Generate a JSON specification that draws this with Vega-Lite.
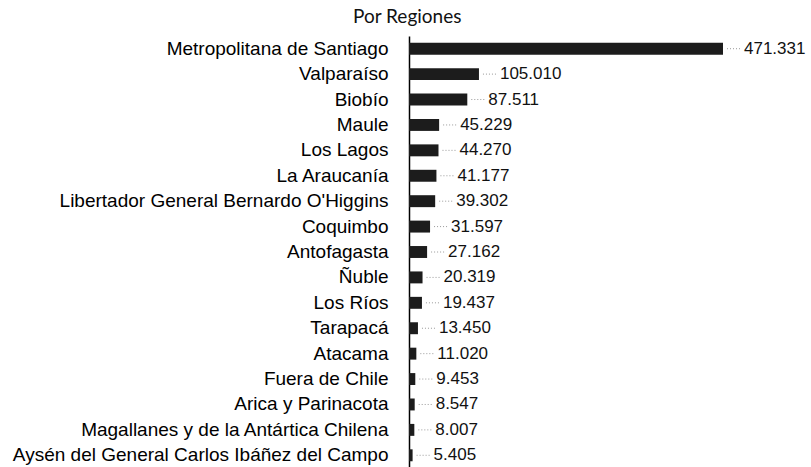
{
  "$schema": "https://vega.github.io/schema/vega-lite/v6.json",
  "autosize": "none",
  "width": 314,
  "height": 432,
  "padding": {"left": 409, "top": 36, "right": 88, "bottom": -1},
  "background": "white",
  "config": {
    "view": {"stroke": null},
    "locale": {"number": {"decimal": ",", "thousands": ".", "grouping": [3], "currency": ["$", ""]}}
  },
  "title": {
    "text": "Por Regiones",
    "anchor": "start",
    "frame": "group",
    "dx": -56,
    "offset": 9,
    "font": "Lato",
    "fontSize": 19,
    "fontWeight": "normal",
    "color": "#111"
  },
  "data": {
    "values": [
      {"region": "Metropolitana de Santiago", "valor": 471331},
      {"region": "Valparaíso", "valor": 105010},
      {"region": "Biobío", "valor": 87511},
      {"region": "Maule", "valor": 45229},
      {"region": "Los Lagos", "valor": 44270},
      {"region": "La Araucanía", "valor": 41177},
      {"region": "Libertador General Bernardo O'Higgins", "valor": 39302},
      {"region": "Coquimbo", "valor": 31597},
      {"region": "Antofagasta", "valor": 27162},
      {"region": "Ñuble", "valor": 20319},
      {"region": "Los Ríos", "valor": 19437},
      {"region": "Tarapacá", "valor": 13450},
      {"region": "Atacama", "valor": 11020},
      {"region": "Fuera de Chile", "valor": 9453},
      {"region": "Arica y Parinacota", "valor": 8547},
      {"region": "Magallanes y de la Antártica Chilena", "valor": 8007},
      {"region": "Aysén del General Carlos Ibáñez del Campo", "valor": 5405}
    ]
  },
  "encoding": {
    "y": {
      "field": "region",
      "type": "nominal",
      "sort": null,
      "scale": {"paddingInner": 0.53, "paddingOuter": 0.265},
      "axis": {
        "title": null,
        "ticks": false,
        "domain": true,
        "domainColor": "#000",
        "domainWidth": 1.5,
        "labelFont": "Liberation Sans",
        "labelFontSize": 19,
        "labelColor": "#000",
        "labelPadding": 21,
        "labelLimit": 500
      }
    },
    "x": {
      "field": "valor",
      "type": "quantitative",
      "scale": {"domain": [0, 471331], "nice": false, "zero": true},
      "axis": null
    }
  },
  "layer": [
    {"mark": {"type": "bar", "color": "#1c1c1c", "clip": false}},
    {
      "mark": {"type": "rule", "color": "#999", "strokeWidth": 1, "strokeDash": [1, 2], "xOffset": 4, "x2Offset": 19},
      "encoding": {"x2": {"field": "valor"}}
    },
    {
      "mark": {"type": "text", "align": "left", "baseline": "middle", "dx": 21, "font": "Liberation Sans", "fontSize": 17, "color": "#111"},
      "encoding": {"text": {"field": "valor", "type": "quantitative", "format": ",.0f"}}
    }
  ]
}
